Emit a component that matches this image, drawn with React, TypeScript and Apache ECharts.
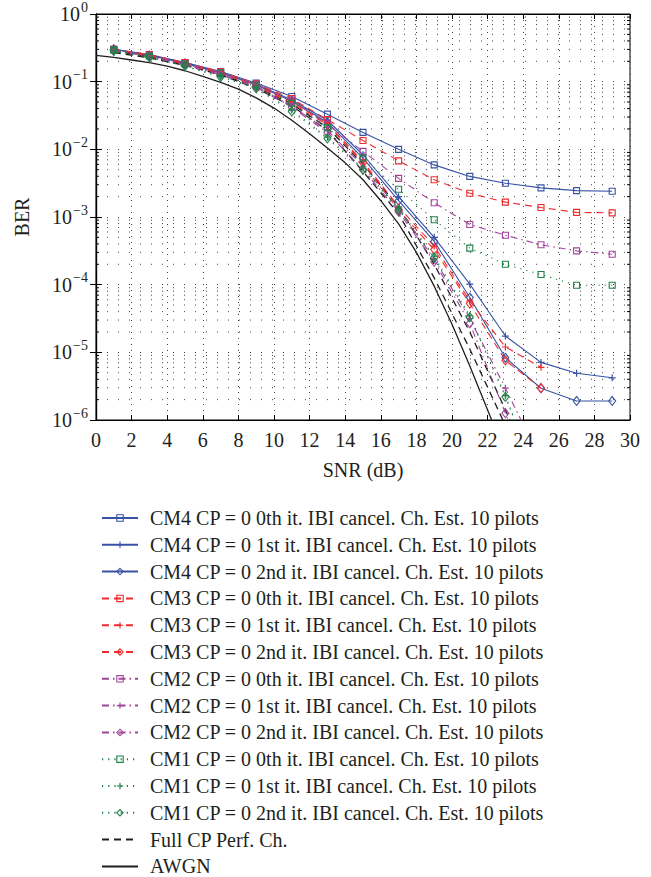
import React, { useEffect, useRef } from "react";
import * as echarts from "echarts";

const snrOdd = [1, 3, 5, 7, 9, 11, 13, 15, 17, 19, 21, 23, 25, 27, 29];
const snrAwgn = [0, 1, 2, 3, 4, 5, 6, 7, 8, 9, 10, 11, 12, 13, 14, 15, 16, 17, 18, 19, 20, 21, 22, 23];

const cm4It0 = [0.302, 0.251, 0.191, 0.141, 0.0955, 0.0603, 0.0331, 0.0178, 0.0100, 0.00589, 0.00398, 0.00316, 0.00269, 0.00245, 0.00240];
const cm4It1 = [0.302, 0.245, 0.191, 0.138, 0.0912, 0.0537, 0.0269, 0.00832, 0.00200, 5.01e-4, 1.02e-4, 1.74e-5, 7.1e-6, 4.9e-6, 4.2e-6];
const cm4It2 = [0.302, 0.245, 0.186, 0.135, 0.0891, 0.0513, 0.0251, 0.00741, 0.00174, 4.37e-4, 6.46e-5, 8.3e-6, 2.95e-6, 1.91e-6, 1.91e-6];
const cm3It0 = [0.302, 0.251, 0.191, 0.141, 0.0933, 0.0562, 0.0275, 0.0135, 0.00676, 0.00355, 0.00224, 0.00166, 0.00138, 0.00117, 0.00115];
const cm3It1 = [0.295, 0.245, 0.186, 0.135, 0.0891, 0.0501, 0.0240, 0.00661, 0.00141, 3.72e-4, 5.75e-5, 1.20e-5, 6.0e-6];
const cm3It2 = [0.295, 0.240, 0.182, 0.132, 0.0871, 0.0479, 0.0229, 0.00631, 0.00126, 3.31e-4, 5.25e-5, 7.6e-6, 2.95e-6];
const cm2It0 = [0.295, 0.245, 0.186, 0.138, 0.0912, 0.0525, 0.0234, 0.00933, 0.00372, 0.00162, 7.76e-4, 5.37e-4, 3.89e-4, 3.16e-4, 2.82e-4];
const cm2It1 = [0.295, 0.240, 0.178, 0.129, 0.0851, 0.0437, 0.0191, 0.00562, 0.00132, 2.40e-4, 3.16e-5, 2.95e-6, 2.5e-7];
const cm2It2 = [0.288, 0.234, 0.178, 0.126, 0.0832, 0.0417, 0.0178, 0.00501, 0.00120, 2.19e-4, 2.69e-5, 1.26e-6, 6e-8];
const cm1It0 = [0.295, 0.240, 0.182, 0.135, 0.0891, 0.0479, 0.0209, 0.00741, 0.00257, 9.12e-4, 3.47e-4, 2.00e-4, 1.41e-4, 9.8e-5, 9.8e-5];
const cm1It1 = [0.288, 0.229, 0.170, 0.120, 0.0813, 0.0380, 0.0151, 0.00525, 0.00135, 2.63e-4, 3.47e-5, 2.29e-6, 1e-7];
const cm1It2 = [0.285, 0.229, 0.170, 0.117, 0.0794, 0.0363, 0.0145, 0.00501, 0.00129, 2.51e-4, 3.31e-5, 2.19e-6, 1e-7];
const fullCpA = [0.269, 0.224, 0.174, 0.126, 0.0794, 0.0437, 0.0191, 0.00468, 0.00112, 1.26e-4, 1.12e-5, 8.3e-7];
const fullCpB = [0.282, 0.234, 0.178, 0.129, 0.0832, 0.0468, 0.0209, 0.00603, 0.00141, 2.0e-4, 2.0e-5, 1.41e-6, 1e-7];
const awgn = [0.245, 0.229, 0.209, 0.191, 0.170, 0.145, 0.120, 0.0977, 0.0776, 0.0575, 0.0407, 0.0269, 0.0170, 0.0105, 0.00631, 0.00355, 0.00174, 7.9e-4, 3.0e-4, 9.5e-5, 2.6e-5, 6.3e-6, 1.4e-6, 3.2e-7];

const xTicks = [0, 2, 4, 6, 8, 10, 12, 14, 16, 18, 20, 22, 24, 26, 28, 30];
const yDecades = [-6, -5, -4, -3, -2, -1, 0];

const BLUE = "#3853a4";
const RED = "#ee2b2e";
const MAGENTA = "#a3449b";
const GREEN = "#1c8246";
const BLACK = "#231f20";

const PLUS = "path://M0,5L10,5M5,0L5,10";

const legendNames = [
  "CM4 CP = 0 0th it. IBI cancel. Ch. Est. 10 pilots",
  "CM4 CP = 0 1st it. IBI cancel. Ch. Est. 10 pilots",
  "CM4 CP = 0 2nd it. IBI cancel. Ch. Est. 10 pilots",
  "CM3 CP = 0 0th it. IBI cancel. Ch. Est. 10 pilots",
  "CM3 CP = 0 1st it. IBI cancel. Ch. Est. 10 pilots",
  "CM3 CP = 0 2nd it. IBI cancel. Ch. Est. 10 pilots",
  "CM2 CP = 0 0th it. IBI cancel. Ch. Est. 10 pilots",
  "CM2 CP = 0 1st it. IBI cancel. Ch. Est. 10 pilots",
  "CM2 CP = 0 2nd it. IBI cancel. Ch. Est. 10 pilots",
  "CM1 CP = 0 0th it. IBI cancel. Ch. Est. 10 pilots",
  "CM1 CP = 0 1st it. IBI cancel. Ch. Est. 10 pilots",
  "CM1 CP = 0 2nd it. IBI cancel. Ch. Est. 10 pilots",
  "Full CP Perf. Ch.",
  "AWGN",
];
const legendColors = [BLUE, BLUE, BLUE, RED, RED, RED, MAGENTA, MAGENTA, MAGENTA, GREEN, GREEN, GREEN, BLACK, BLACK];

const FONT = "'Liberation Serif', 'Times New Roman', serif";
const FS = 20;

function pairs(xs: number[], ys: number[]) {
  return ys.map((y, i) => [xs[i], y]);
}

export default function App() {
  const ref = useRef<HTMLDivElement>(null);
  useEffect(() => {
    if (!ref.current) return;
    const chart = echarts.init(ref.current, null, { renderer: "svg" });

    const dashStyles: Record<string, any> = {
      solid: "solid",
      dashed: [7, 5],
      dashdot: [7, 4, 1.5, 4],
      dotted: [1.2, 5],
    };

    const mk = (name: string, color: string, dash: string, symbol: string, ys: number[]) => {
      const isPlus = symbol === PLUS;
      return {
        name,
        type: "line",
        data: pairs(snrOdd, ys),
        color,
        symbol,
        symbolSize: symbol === "diamond" ? [7, 9] : symbol === "rect" ? 6 : 7,
        showSymbol: true,
        clip: true,
        lineStyle: { color, width: 1.1, type: dashStyles[dash] },
        itemStyle: { color: "rgba(255,255,255,0)", borderColor: color, borderWidth: isPlus ? 1.2 : 1.1 },
        z: 3,
      };
    };

    const minorVals: number[][] = [];
    for (const d of yDecades) {
      if (d >= 0) continue;
      for (let m = 2; m <= 9; m++) minorVals.push([0, m * Math.pow(10, d)]);
    }

    const series: any[] = [
      {
        type: "custom",
        data: minorVals,
        encode: { x: 0, y: 1 },
        silent: true,
        z: 1,
        renderItem: (params: any, api: any) => {
          const v = api.value(1);
          const p0 = api.coord([0, v]);
          const p1 = api.coord([30, v]);
          return {
            type: "group",
            children: [
              { type: "line", shape: { x1: p0[0], y1: p0[1], x2: p1[0], y2: p1[1] }, style: { stroke: "#444", lineWidth: 1, lineDash: [1, 10] } },
              { type: "line", shape: { x1: p0[0], y1: p0[1], x2: p0[0] + 3, y2: p0[1] }, style: { stroke: "#000", lineWidth: 1 } },
              { type: "line", shape: { x1: p1[0] - 3, y1: p1[1], x2: p1[0], y2: p1[1] }, style: { stroke: "#000", lineWidth: 1 } },
            ],
          };
        },
      },
      mk(legendNames[0], BLUE, "solid", "rect", cm4It0),
      mk(legendNames[1], BLUE, "solid", PLUS, cm4It1),
      mk(legendNames[2], BLUE, "solid", "diamond", cm4It2),
      mk(legendNames[3], RED, "dashed", "rect", cm3It0),
      mk(legendNames[4], RED, "dashed", PLUS, cm3It1),
      mk(legendNames[5], RED, "dashed", "diamond", cm3It2),
      mk(legendNames[6], MAGENTA, "dashdot", "rect", cm2It0),
      mk(legendNames[7], MAGENTA, "dashdot", PLUS, cm2It1),
      mk(legendNames[8], MAGENTA, "dashdot", "diamond", cm2It2),
      mk(legendNames[9], GREEN, "dotted", "rect", cm1It0),
      mk(legendNames[10], GREEN, "dotted", PLUS, cm1It1),
      mk(legendNames[11], GREEN, "dotted", "diamond", cm1It2),
      {
        name: legendNames[12], type: "line", data: pairs(snrOdd, fullCpA), color: BLACK,
        symbol: "none", clip: true, lineStyle: { color: BLACK, width: 1.3, type: [7, 5] }, z: 2,
      },
      {
        name: legendNames[12], type: "line", data: pairs(snrOdd, fullCpB), color: BLACK,
        symbol: "none", clip: true, lineStyle: { color: BLACK, width: 1.3, type: [7, 5] }, z: 2,
      },
      {
        name: legendNames[13], type: "line", data: pairs(snrAwgn, awgn), color: BLACK,
        symbol: "none", clip: true, lineStyle: { color: BLACK, width: 1.3, type: "solid" }, z: 2,
      },
    ];

    const supMap: Record<string, string> = { "-": "\u2212" };

    chart.setOption({
      animation: false,
      backgroundColor: "#fff",
      textStyle: { fontFamily: FONT, color: BLACK },
      grid: { left: 96, right: 21, top: 12, height: 408, show: true, borderColor: "#000", borderWidth: 1, backgroundColor: "transparent" },
      legend: {
        data: legendNames.map((n, i) =>
          i >= 12
            ? { name: n, itemStyle: { opacity: 0 } }
            : { name: n, itemStyle: { color: "rgba(255,255,255,0)", borderColor: legendColors[i], borderWidth: 1.1 } }
        ),
        orient: "vertical",
        left: 96,
        top: 503,
        height: 372,
        itemWidth: 36,
        itemHeight: 8,
        itemGap: 6.8,
        textStyle: { fontFamily: FONT, fontSize: FS, color: BLACK, lineHeight: 20, padding: [0, 0, 0, 7] },
      },
      xAxis: [
        {
          type: "value", min: 0, max: 30, interval: 2,
          name: "SNR (dB)", nameLocation: "middle", nameGap: 40,
          nameTextStyle: { fontFamily: FONT, fontSize: FS, color: BLACK },
          axisLine: { show: true, lineStyle: { color: "#000", width: 1.2 } },
          axisTick: { show: true, inside: true, length: 5, lineStyle: { color: "#000" } },
          axisLabel: { fontFamily: FONT, fontSize: FS, color: BLACK, margin: 10, formatter: (v: number) => (xTicks.includes(v) ? String(v) : "") },
          splitLine: { show: true, lineStyle: { color: "#444", type: [1, 5], width: 1 } },
        },
        {
          type: "value", min: 0, max: 30, interval: 2, position: "top",
          axisLine: { show: true, lineStyle: { color: "#000", width: 1.2 } },
          axisTick: { show: true, inside: true, length: 5, lineStyle: { color: "#000" } },
          axisLabel: { show: false },
          splitLine: { show: false },
        },
      ],
      yAxis: [
        {
          type: "log", logBase: 10, min: 1e-6, max: 1,
          name: "BER", nameLocation: "middle", nameGap: 64,
          nameTextStyle: { fontFamily: FONT, fontSize: FS, color: BLACK },
          axisLine: { show: true, lineStyle: { color: "#000", width: 1.2 } },
          axisTick: { show: true, inside: true, length: 6, lineStyle: { color: "#000" } },
          axisLabel: {
            margin: 8,
            formatter: (v: number) => {
              const e = Math.round(Math.log10(v));
              const s = String(e).split("").map((c) => supMap[c] || c).join("");
              return `{b|10}{s|${s}}`;
            },
            rich: {
              b: { fontFamily: FONT, fontSize: FS, color: BLACK, verticalAlign: "bottom", lineHeight: 20 },
              s: { fontFamily: FONT, fontSize: 14, color: BLACK, verticalAlign: "bottom", padding: [0, 0, 10, 1], lineHeight: 14 },
            },
          },
          splitLine: { show: true, lineStyle: { color: "#444", type: [1, 10], width: 1 } },
        },
        {
          type: "log", logBase: 10, min: 1e-6, max: 1, position: "right",
          axisLine: { show: true, lineStyle: { color: "#000", width: 1.2 } },
          axisTick: { show: true, inside: true, length: 6, lineStyle: { color: "#000" } },
          axisLabel: { show: false },
          splitLine: { show: false },
        },
      ],
      series,
    });
    return () => chart.dispose();
  }, []);
  return <div ref={ref} style={{ width: 651, height: 877, position: "absolute", left: 0, top: 0 }} />;
}
